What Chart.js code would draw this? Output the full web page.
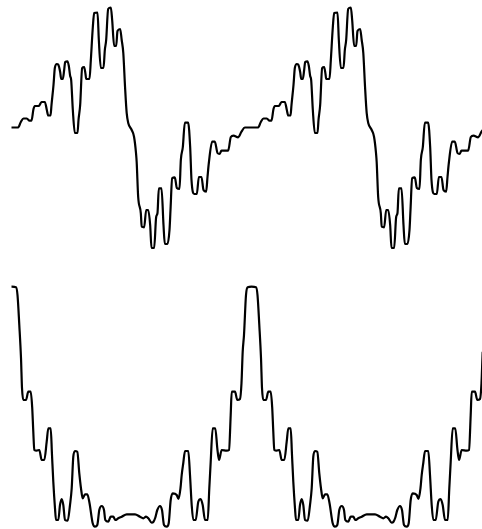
<!DOCTYPE html>
<html>
<head>
<meta charset="utf-8">
<script src="https://cdn.jsdelivr.net/npm/chart.js@4/dist/chart.umd.min.js"></script>
<style>
  html, body { margin: 0; padding: 0; background: #fff; width: 482px; height: 529px; overflow: hidden; }
  canvas { position: absolute; left: 0; }
  #topWave { top: 0; }
  #bottomWave { top: 266px; }
</style>
</head>
<body>
<canvas id="topWave" width="482" height="260"></canvas>
<canvas id="bottomWave" width="482" height="263"></canvas>
<script>
// One cycle of each waveform: phase in degrees, amplitude in signal units.
const topPhase = [
  0, 10, 14, 18, 23, 27, 30, 33, 35, 41, 45, 50, 53, 55, 58.5, 60, 63, 65, 68, 70,
  73, 74.5, 77, 79, 80.5, 84, 86, 88, 89.5, 92, 95, 99, 100.5, 103, 106, 109, 111, 112, 117, 119,
  122, 124, 129, 131, 134, 138, 140, 142, 145, 149, 151, 154, 157, 159, 163, 165.3, 167.7, 170.3, 172.8, 175.2,
  180.3, 183.8, 186.8, 187.8, 190, 194, 195.3, 199, 202, 205, 208, 210, 214, 217, 219, 221, 225, 228, 230, 234,
  237, 238.5, 241, 245, 248, 252, 254, 257, 260, 265, 268, 270, 274, 278, 281, 285, 288, 292, 294, 296,
  301, 305, 309, 312, 315, 325, 329, 333, 340, 345, 350
];
const topValue = [
  0, 0, 0.055, 0.09, 0.09, 0.068, 0.068, 0.185, 0.215, 0.215, 0.255, 0.255, 0.175, 0.12, 0.12, 0.225, 0.425, 0.595, 0.635, 0.63,
  0.555, 0.485, 0.485, 0.575, 0.655, 0.662, 0.615, 0.515, 0.475, 0.175, -0.055, -0.055, 0.075, 0.225, 0.595, 0.605, 0.535, 0.485, 0.485, 0.675,
  1.005, 1.145, 1.15, 0.875, 0.595, 0.595, 0.775, 0.875, 1.185, 1.2, 1.075, 0.815, 0.815, 0.965, 0.985, 0.875, 0.745, 0.408, 0.143, 0.043,
  -0.025, -0.092, -0.258, -0.35, -0.692, -0.858, -0.992, -0.998, -0.825, -0.825, -0.975, -1.205, -1.205, -0.895, -0.855, -0.608, -0.608, -0.975, -1.165, -1.165,
  -1.025, -0.825, -0.508, -0.498, -0.605, -0.615, -0.325, -0.195, 0.048, 0.048, -0.195, -0.525, -0.665, -0.665, -0.495, -0.495, -0.625, -0.642, -0.495, -0.355,
  -0.142, -0.142, -0.255, -0.265, -0.232, -0.232, -0.095, -0.082, -0.098, -0.042, 0
];

const bottomPhase = [
  0, 6.75, 9, 11.7, 14.25, 15.75, 17.7, 21.75, 25.2, 28.8, 31, 32.7, 34.2, 37.8, 41.7, 45.3, 49.2, 52.8, 55.2, 58.8,
  60.75, 62.7, 65.25, 66.75, 70.2, 72.75, 75.3, 77.7, 80.25, 84.3, 87.75, 90.3, 92.7, 95.25, 98.7, 101.7, 104.25, 106.8, 110.25, 113.7,
  117, 121.8, 125.25, 128.7, 131.7, 135.3, 138.75, 140.7, 145.2, 148.8, 152.7, 155.7, 160.2, 165.3, 172.8, 185.25, 192.75, 197.7, 201.75, 205.2,
  210.3, 212.7, 215.5, 218.7, 222.75, 225.75, 228.75, 232.8, 235.8, 238.8, 241.8, 247.8, 250.5, 253.5, 255.3, 257.7, 260.25, 265.2, 267.75, 270.3,
  272.7, 276.3, 280.2, 283.8, 286.8, 290.25, 294.3, 296.7, 298.8, 301.8, 305.7, 308.7, 311.25, 315.3, 322.8, 326.25, 328.8, 330.3, 335.25, 338.7,
  342.75, 345, 346.8, 348.75, 351.75, 354.3
];
const bottomValue = [
  2.413, 2.407, 2.33, 2.03, 1.7, 1.4, 1.28, 1.28, 1.363, 1.363, 1.21, 0.963, 0.78, 0.773, 0.78, 0.68, 0.68, 0.863, 0.997, 0.997,
  0.73, 0.463, 0.197, 0.08, 0.08, 0.23, 0.29, 0.23, 0.08, 0.073, 0.23, 0.397, 0.713, 0.77, 0.763, 0.547, 0.397, 0.297, 0.337, 0.337,
  0.25, 0.047, 0.013, 0.03, 0.18, 0.22, 0.18, 0.08, 0.063, 0.113, 0.113, 0.08, 0.097, 0.113, 0.137, 0.137, 0.113, 0.097, 0.113, 0.097,
  0.053, 0.06, 0.1, 0.18, 0.22, 0.18, 0.03, 0.013, 0.047, 0.28, 0.347, 0.33, 0.29, 0.4, 0.53, 0.65, 0.77, 0.77, 0.53, 0.23,
  0.08, 0.08, 0.263, 0.29, 0.23, 0.08, 0.08, 0.397, 0.663, 0.997, 0.997, 0.797, 0.68, 0.78, 0.773, 0.78, 1.13, 1.363, 1.363, 1.28,
  1.29, 1.45, 1.763, 1.93, 2.33, 2.407
];

// The signal repeats every 360 degrees; two cycles are shown.
const cycles = [0, 1];
const CYCLE_DEG = 360;

function series(phase, value) {
  const pts = [];
  cycles.forEach(c => {
    phase.forEach((p, i) => pts.push({ x: p + c * CYCLE_DEG, y: value[i] }));
  });
  return pts;
}

function waveChart(id, pts, yMin, yMax) {
  return new Chart(document.getElementById(id), {
    type: 'line',
    data: {
      datasets: [{
        data: pts,
        borderColor: '#000000',
        borderWidth: 2.2,
        pointRadius: 0,
        fill: false,
        cubicInterpolationMode: 'monotone'
      }]
    },
    options: {
      responsive: false,
      animation: false,
      devicePixelRatio: 1,
      layout: { padding: 0 },
      plugins: { legend: { display: false }, tooltip: { enabled: false } },
      scales: {
        x: { type: 'linear', display: false, min: -17.25, max: 705.75 },
        y: { display: false, min: yMin, max: yMax }
      }
    }
  });
}

waveChart('topWave', series(topPhase, topValue), -1.325, 1.275);
waveChart('bottomWave', series(bottomPhase, bottomValue), -0.01, 2.62);
</script>
</body>
</html>
